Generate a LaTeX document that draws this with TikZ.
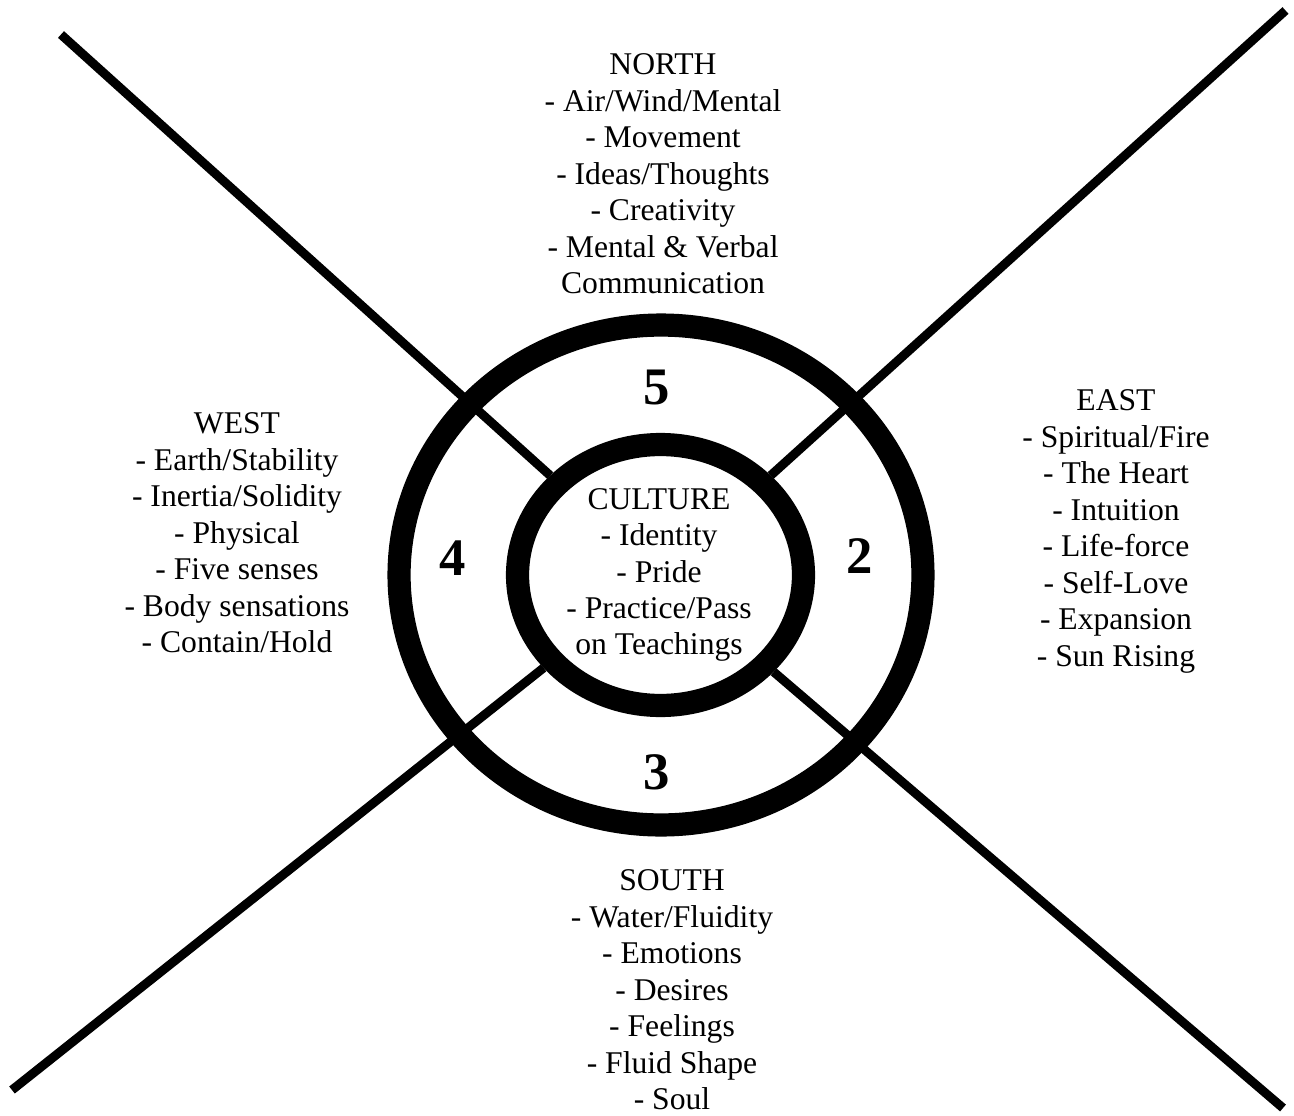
\documentclass[tikz,border=0pt]{standalone}
\usepackage{fontspec}
\setmainfont{Liberation Serif}
\usepackage{tikz}
\usetikzlibrary{shapes.geometric}

\begin{document}
\begin{tikzpicture}[x=0.02cm, y=-0.02cm,
    ring/.style={ellipse, draw=black, line width=13.2pt, inner sep=0pt},
    spoke/.style={line width=5.1pt, draw=black},
    num/.style={inner sep=0pt, font=\fontsize{30}{36}\selectfont\bfseries},
    dirtext/.style={align=center, inner sep=0pt, font=\fontsize{18}{20.75}\selectfont}
]
    \useasboundingbox (0,0) rectangle (1294,1115);

    % Rings
    \node[ring, minimum width=10.48cm, minimum height=10.0cm] (outer) at (661,575) {};
    \node[ring, fill=white, minimum width=5.72cm, minimum height=5.22cm] (inner) at (660.5,575) {};

    % Spokes
    \coordinate (nw) at (61,34.5);
    \coordinate (ne) at (1285.5,10.5);
    \coordinate (sw) at (12,1090);
    \coordinate (se) at (1283,1108);
    \foreach \corner in {nw,ne,sw,se}
        \draw[spoke] (\corner) -- (inner);

    % Numbers
    \node[num] (n5) at (657,387) {5};
    \node[num] (n2) at (860,556) {2};
    \node[num] (n3) at (657,772) {3};
    \node[num] (n4) at (453,558) {4};

    % Directions
    \node[dirtext] (north) at (663,174) {
        NORTH\\
        - Air/Wind/Mental\\
        - Movement\\
        - Ideas/Thoughts\\
        - Creativity\\
        - Mental \& Verbal\\
        Communication
    };
    \node[dirtext] (west) at (237,533) {
        WEST\\
        - Earth/Stability\\
        - Inertia/Solidity\\
        - Physical\\
        - Five senses\\
        - Body sensations\\
        - Contain/Hold
    };
    \node[dirtext] (east) at (1116,531.5) {
        EAST\\
        - Spiritual/Fire\\
        - The Heart\\
        - Intuition\\
        - Life-force\\
        - Self-Love\\
        - Expansion\\
        - Sun Rising
    };
    \node[dirtext] (south) at (672,990) {
        SOUTH\\
        - Water/Fluidity\\
        - Emotions\\
        - Desires\\
        - Feelings\\
        - Fluid Shape\\
        - Soul
    };
    \node[dirtext] (culture) at (659,575) {
        CULTURE\\
        - Identity\\
        - Pride\\
        - Practice/Pass\\
        on Teachings
    };
\end{tikzpicture}
\end{document}
